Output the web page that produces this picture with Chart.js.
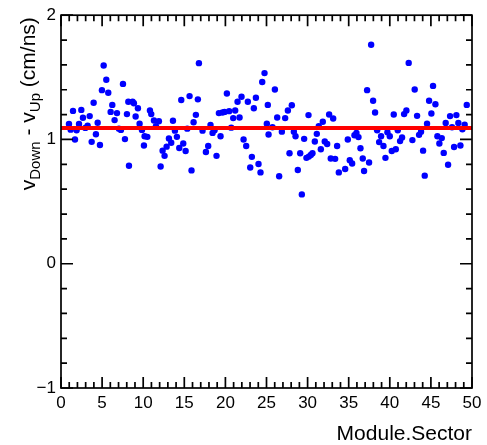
<!DOCTYPE html>
<html>
<head>
<meta charset="utf-8">
<script src="https://cdn.jsdelivr.net/npm/chart.js@4.4.1/dist/chart.umd.min.js"></script>
<style>
    html, body { margin: 0; padding: 0; background: #fff; }
    #wrap { width: 487px; height: 445px; }
</style>
</head>
<body>
<div id="wrap"><canvas id="velChart"></canvas></div>
<script>
// Module.Sector positions (x) and velocity difference values (y)
const moduleSector = [
    0.97, 1.18, 1.46, 1.70, 1.90, 2.19, 2.47, 2.67, 2.96, 3.24, 3.49, 3.73, 3.97, 4.25, 4.46, 4.74,
    4.98, 5.19, 5.51, 5.75, 6.04, 6.24, 6.52, 6.81, 7.05, 7.29, 7.54, 7.78, 8.02, 8.19, 8.27,
    8.71, 8.87, 9.08, 9.36, 9.56, 9.85, 10.17, 10.09, 10.50, 10.82, 10.98, 11.31, 11.55, 11.91,
    12.12, 12.36, 12.60, 12.85, 13.13, 13.41, 13.62, 13.86, 14.10, 14.39, 14.63, 14.87, 15.16,
    15.36, 15.64, 15.88, 16.13, 16.41, 16.65, 16.78,
    17.22, 17.63, 17.91, 18.19, 18.44, 18.68, 18.92, 19.21, 19.41, 19.65, 19.90, 20.18, 20.46,
    20.71, 20.95, 21.19, 21.48, 21.72, 21.96, 22.21, 22.53, 22.73, 23.02, 23.22, 23.46, 23.71,
    24.03, 24.27, 24.48, 24.76, 25.04, 25.16, 25.25,
    25.73, 26.02, 26.30, 26.54, 26.87, 27.27, 27.60, 27.80, 28.08, 28.33, 28.53, 28.81, 29.10,
    29.30, 29.58, 29.86, 30.11, 30.15, 30.39, 30.59, 30.88, 31.12, 31.36, 31.61, 31.85, 32.09,
    32.38, 32.62, 32.82, 33.11, 33.35, 33.59, 33.80,
    34.57, 34.89, 35.13, 35.42, 35.70, 35.94, 36.19, 36.43, 36.71, 36.87, 37.24, 37.48, 37.73,
    37.97, 38.21, 38.46, 38.70, 38.94, 39.23, 39.47, 39.71, 40.00, 40.24, 40.48, 40.73, 40.97,
    41.25, 41.49, 41.74, 42.02, 42.30,
    42.75, 43.03, 43.32, 43.56, 43.80, 44.05, 44.25, 44.53, 44.78, 45.06, 45.26, 45.55, 45.79,
    46.03, 46.32, 46.56, 46.80, 47.09, 47.33, 47.57, 47.82, 48.10, 48.34, 48.59, 48.83, 49.11, 49.36
];
const velocityDiff = [
    1.124, 1.079, 1.230, 1.000, 1.074, 1.124, 1.238, 1.175, 1.093, 1.111, 1.188, 0.981, 1.296, 1.042, 1.135, 0.955,
    1.397, 1.595, 1.481, 1.376, 1.222, 1.278, 1.156, 1.212, 1.087, 1.077, 1.447, 1.003, 1.204, 1.304, 0.788,
    1.304, 1.291, 1.185, 1.251, 1.127, 1.077, 1.026, 0.952, 1.021, 1.233, 1.204, 1.153, 1.106, 1.146,
    0.783, 0.910, 0.868, 0.942, 1.008, 0.974, 1.151, 1.071, 1.021, 0.931, 1.317, 0.968, 0.907,
    1.087, 1.349, 0.751, 1.138, 1.198, 1.323, 1.614,
    1.071, 0.899, 0.947, 1.116, 1.053, 1.074, 0.868, 1.212, 1.026, 1.217, 1.222, 1.370, 1.228,
    1.095, 1.172, 1.233, 1.304, 1.177, 1.344, 1.000, 0.947, 1.304, 0.775, 0.860, 1.251, 1.336,
    0.802, 0.735, 1.463, 1.534, 1.127, 1.278, 1.040,
    1.098, 1.402, 1.177, 0.704, 1.063, 1.172, 1.233, 0.889, 1.275, 1.063, 1.026, 0.754, 0.889,
    0.558, 1.005, 0.852, 1.196, 0.862, 0.876, 0.889, 0.984, 1.045, 1.106, 0.921, 1.143, 0.984,
    0.963, 1.201, 0.847, 1.169, 0.844, 0.947, 0.735,
    0.762, 1.000, 0.833, 0.807, 1.034, 1.053, 1.019, 0.929, 0.847, 0.746, 1.397, 0.815, 1.762,
    1.312, 1.217, 1.074, 0.979, 1.026, 0.947, 0.852, 1.058, 1.026, 0.907, 1.201, 0.921, 1.074,
    0.987, 1.016, 1.204, 1.233, 1.616,
    0.995, 1.402, 1.190, 1.037, 1.063, 0.910, 0.709, 1.127, 1.312, 1.209, 1.431, 1.283, 1.026,
    0.968, 1.011, 0.892, 1.132, 0.796, 1.188, 1.098, 0.939, 1.196, 1.132, 0.952, 1.082, 1.119, 1.278
];

// constant fit (red line)
const fitRange = [0, 50];
const fitValue = 1.093;

// axis ticks
const xTicks = [0, 5, 10, 15, 20, 25, 30, 35, 40, 45, 50];
const yTicks = [-1, 0, 1, 2];

const FONT = '"Liberation Sans", Arial, Helvetica, sans-serif';

// ROOT-like frame with inward ticks + axis titles
const frameAndTitles = {
    id: 'frameAndTitles',
    afterDraw(chart) {
        const { ctx, chartArea, scales } = chart;
        const { left, right, top, bottom } = chartArea;
        ctx.save();
        ctx.strokeStyle = '#000';
        ctx.lineWidth = 1.7;
        ctx.strokeRect(left, top, right - left, bottom - top);

        ctx.beginPath();
        // x ticks, minor every 1, major every 5
        for (let v = 0; v <= 50; v += 1) {
            const px = scales.x.getPixelForValue(v);
            const len = (v % 5 === 0) ? 11 : 6;
            ctx.moveTo(px, bottom); ctx.lineTo(px, bottom - len);
            ctx.moveTo(px, top); ctx.lineTo(px, top + len);
        }
        // y ticks, minor every 0.2, major every 1
        for (let i = -5; i <= 10; i++) {
            const v = i * 0.2;
            const py = scales.y.getPixelForValue(v);
            const len = (i % 5 === 0) ? 12 : 6;
            ctx.moveTo(left, py); ctx.lineTo(left + len, py);
            ctx.moveTo(right, py); ctx.lineTo(right - len, py);
        }
        ctx.stroke();

        // x title
        ctx.fillStyle = '#000';
        ctx.font = '21px ' + FONT;
        ctx.textAlign = 'right';
        ctx.textBaseline = 'alphabetic';
        ctx.fillText('Module.Sector', right, 440);

        // y title with subscripts, right-aligned to the top of the axis
        const parts = [
            { t: 'v', s: 21, dy: 0 },
            { t: 'Down', s: 15, dy: 5 },
            { t: ' - v', s: 21, dy: 0 },
            { t: 'Up', s: 15, dy: 5 },
            { t: ' (cm/ns)', s: 21, dy: 0 }
        ];
        let total = 0;
        parts.forEach(p => { ctx.font = p.s + 'px ' + FONT; p.w = ctx.measureText(p.t).width; total += p.w; });
        ctx.translate(35, top + 2);
        ctx.rotate(-Math.PI / 2);
        ctx.textAlign = 'left';
        let cx = -total;
        parts.forEach(p => {
            ctx.font = p.s + 'px ' + FONT;
            ctx.fillText(p.t, cx, p.dy);
            cx += p.w;
        });
        ctx.restore();
    }
};

new Chart(document.getElementById('velChart'), {
    type: 'scatter',
    data: {
        datasets: [
            {
                label: 'fit',
                data: fitRange.map(x => ({ x: x, y: fitValue })),
                showLine: true,
                borderColor: '#ff0000',
                borderWidth: 4,
                pointRadius: 0
            },
            {
                label: 'data',
                data: moduleSector.map((x, i) => ({ x: x, y: velocityDiff[i] })),
                backgroundColor: '#0000ff',
                borderWidth: 0,
                pointRadius: 3.2
            }
        ]
    },
    options: {
        responsive: true,
        maintainAspectRatio: false,
        animation: false,
        layout: { padding: { left: 0, right: 15, top: 10, bottom: 0 } },
        plugins: { legend: { display: false }, tooltip: { enabled: false } },
        scales: {
            x: {
                type: 'linear',
                min: 0, max: 50,
                afterBuildTicks: s => { s.ticks = xTicks.map(v => ({ value: v })); },
                afterFit: s => { s.height = 57; },
                grid: { display: false, drawTicks: false },
                border: { display: false },
                ticks: { color: '#000', font: { size: 17, family: FONT }, padding: 5, maxRotation: 0, autoSkip: false }
            },
            y: {
                type: 'linear',
                min: -1, max: 2,
                afterBuildTicks: s => { s.ticks = yTicks.map(v => ({ value: v })); },
                afterFit: s => { s.width = 61; },
                grid: { display: false, drawTicks: false },
                border: { display: false },
                ticks: {
                    color: '#000', font: { size: 17, family: FONT }, padding: 5,
                    callback: v => (v < 0 ? '\u2212' + Math.abs(v) : String(v))
                }
            }
        }
    },
    plugins: [frameAndTitles]
});
</script>
</body>
</html>
